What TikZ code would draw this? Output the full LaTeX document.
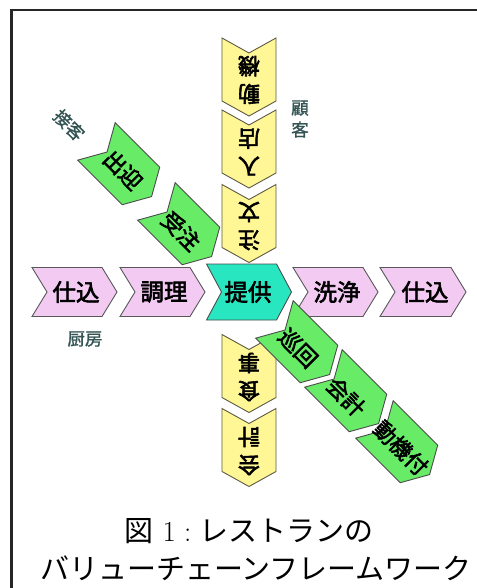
\documentclass[tikz,border=0pt]{standalone}
\usepackage{fontspec}
\newfontfamily\jp{Noto Sans CJK JP}
\newfontfamily\jpb[FakeBold=2.6]{Noto Sans CJK JP}
\newfontfamily\jpm[FakeBold=1.2]{Noto Sans CJK JP}
\definecolor{pinkf}{RGB}{242,202,242}
\definecolor{tealf}{RGB}{40,230,192}
\definecolor{yelf}{RGB}{255,247,150}
\definecolor{grnf}{RGB}{104,236,104}
\definecolor{lblc}{RGB}{52,84,84}
% chevron: #1 centre, #2 angle, #3 length, #4 width, #5 style
\newcommand{\chv}[5]{%
  \draw[#5,shift={#1},rotate=#2] (-#3/2,#4/2) -- ({#3/2-15},#4/2) -- (#3/2,0)
    -- ({#3/2-15},-#4/2) -- (-#3/2,-#4/2) -- ({-#3/2+15},0) -- cycle;}
\tikzset{
  pinkc/.style={fill=pinkf,draw=black!65,line width=0.9},
  tealc/.style={fill=tealf,draw=black!70,line width=0.9},
  yelc/.style={fill=yelf,draw=black!55!yellow!60!black,line width=0.9},
  grnc/.style={fill=grnf,draw=black!70,line width=0.9},
  ctext/.style={font=\jpb\fontsize{23.5}{26}\selectfont,inner sep=0,text=black},
  ytext/.style={font=\jpb\fontsize{22}{28}\selectfont,inner sep=0,align=center,rotate=180,text=black},
  gtext/.style={font=\jpb\fontsize{22}{26}\selectfont,inner sep=0,rotate=-45,text=black},
  lbl/.style={font=\jpm\fontsize{17.5}{21}\selectfont,inner sep=0,text=lblc},
  captext/.style={font=\fontsize{29}{37}\selectfont,inner sep=0,text=black}
}
\begin{document}
\begin{tikzpicture}[x=1pt,y=1pt]
\useasboundingbox (0,0) rectangle (476,-588);
\fill[white] (0,0) rectangle (476,-588);
% frame
\draw[line width=2.6,black!85] (490,-10) -- (11.5,-10) -- (11.5,-600);

% yellow column (pointing down)
\chv{(249,-77)}{-90}{78}{54}{yelc}
\chv{(249,-149)}{-90}{78}{54}{yelc}
\chv{(249,-223.5)}{-90}{78}{54}{yelc}
\chv{(249,-373.5)}{-90}{78}{54}{yelc}
\chv{(249,-447.5)}{-90}{78}{54}{yelc}
\node[ytext] (y1) at (249,-80) {動\\機};
\node[ytext] (y2) at (249,-152) {入\\店};
\node[ytext] (y3) at (249,-226) {注\\文};
\node[ytext] (y4) at (249,-377) {食\\事};
\node[ytext] (y5) at (249,-451) {会\\計};

% pink / teal row
\chv{(74.5,-292)}{0}{85}{49}{pinkc}
\chv{(162.5,-292)}{0}{85}{49}{pinkc}
\chv{(335.5,-292)}{0}{85}{49}{pinkc}
\chv{(423,-292)}{0}{86}{49}{pinkc}
\chv{(249,-292)}{0}{85}{56}{tealc}
\node[ctext] (p1) at (76,-292) {仕込};
\node[ctext] (p2) at (164,-292) {調理};
\node[ctext] (t1) at (248,-292) {提供};
\node[ctext] (p3) at (337,-292) {洗浄};
\node[ctext] (p4) at (425,-292) {仕込};

% green diagonal (pointing down-right)
\chv{(124,-169)}{-45}{78}{53}{grnc}
\chv{(184,-229)}{-45}{78}{53}{grnc}
\chv{(302,-347)}{-45}{78}{53}{grnc}
\chv{(351,-396)}{-45}{78}{53}{grnc}
\chv{(402,-447)}{-45}{78}{53}{grnc}
\node[gtext] (g1) at (123,-170) {出迎};
\node[gtext] (g2) at (181,-231) {受注};
\node[gtext] (g3) at (298,-348) {巡回};
\node[gtext] (g4) at (346,-397) {会計};
\node[gtext] (g5) at (401,-448) {動機付};

% labels
\node[lbl] (kitchen) at (85,-339) {厨房};
\node[lbl,align=center,font=\jpm\fontsize{17.5}{22}\selectfont] (customer) at (300,-119) {顧\\客};
\node[lbl,rotate=-45] (service) at (69,-125) {接客};

% caption
\node[captext] (cap1) at (249,-531) {{\jp 図}\hspace{9pt}1\hspace{8pt}:\hspace{8pt}{\jp レストランの}};
\node[captext] (cap2) at (256,-568) {\jp バリューチェーンフレームワーク};
\end{tikzpicture}
\end{document}
